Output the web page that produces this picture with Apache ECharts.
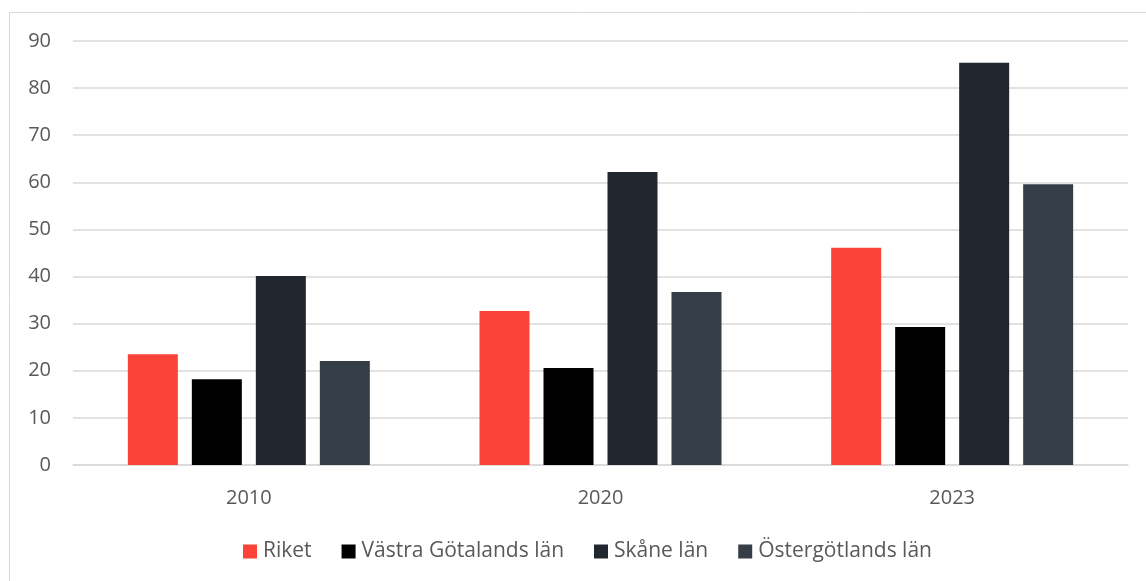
<!DOCTYPE html>
<html>
<head>
<meta charset="utf-8">
<script src="https://cdn.jsdelivr.net/npm/echarts@6/dist/echarts.min.js"></script>
<style>
  html, body { margin: 0; padding: 0; background: #fff; }
  #chart { width: 1146px; height: 581px; }
</style>
</head>
<body>
<div id="chart"></div>
<script>
// Years on the category axis
const years = ['2010', '2020', '2023'];

// One series per region
const riket = [23.5, 32.7, 46.1];
const vastraGotaland = [18.2, 20.6, 29.3];
const skane = [40.1, 62.2, 85.4];
const ostergotland = [22.1, 36.7, 59.6];

const seriesNames = ['Riket', 'Västra Götalands län', 'Skåne län', 'Östergötlands län'];
const seriesColors = ['#fc433a', '#000000', '#20272e', '#353d47'];
const seriesValues = [riket, vastraGotaland, skane, ostergotland];

const FONT = '"Open Sans", "Noto Sans", sans-serif';
const TEXT = '#595959';

const chart = echarts.init(document.getElementById('chart'), null, { renderer: 'canvas' });

chart.setOption({
  animation: false,
  backgroundColor: '#ffffff',
  graphic: [{
    type: 'rect',
    shape: { x: 9.5, y: 12.5, width: 1160, height: 600 },
    style: { fill: 'none', stroke: '#d9d9d9', lineWidth: 1 },
    silent: true,
    z: -1
  }],
  grid: { left: 73, right: 18, top: 41, bottom: 116, containLabel: false },
  legend: {
    data: seriesNames,
    top: 536,
    left: 238,
    icon: 'rect',
    itemWidth: 14,
    itemHeight: 14,
    itemGap: 30,
    textStyle: { color: TEXT, fontSize: 21, fontFamily: FONT, padding: [0, 0, 0, 1] }
  },
  xAxis: {
    type: 'category',
    data: years,
    axisLine: { show: true, lineStyle: { color: '#d9d9d9', width: 1.5 } },
    axisTick: { show: false },
    axisLabel: { color: TEXT, fontSize: 20, fontFamily: FONT, margin: 23 }
  },
  yAxis: {
    type: 'value',
    min: 0,
    max: 90,
    interval: 10,
    axisLine: { show: false },
    axisTick: { show: false },
    axisLabel: { color: TEXT, fontSize: 20, fontFamily: FONT, margin: 22 },
    splitLine: { lineStyle: { color: '#d9d9d9', width: 1.5 } }
  },
  series: seriesNames.map((name, i) => ({
    name: name,
    type: 'bar',
    data: seriesValues[i],
    barWidth: 50,
    barGap: '28%',
    itemStyle: { color: seriesColors[i] }
  }))
});
</script>
</body>
</html>
